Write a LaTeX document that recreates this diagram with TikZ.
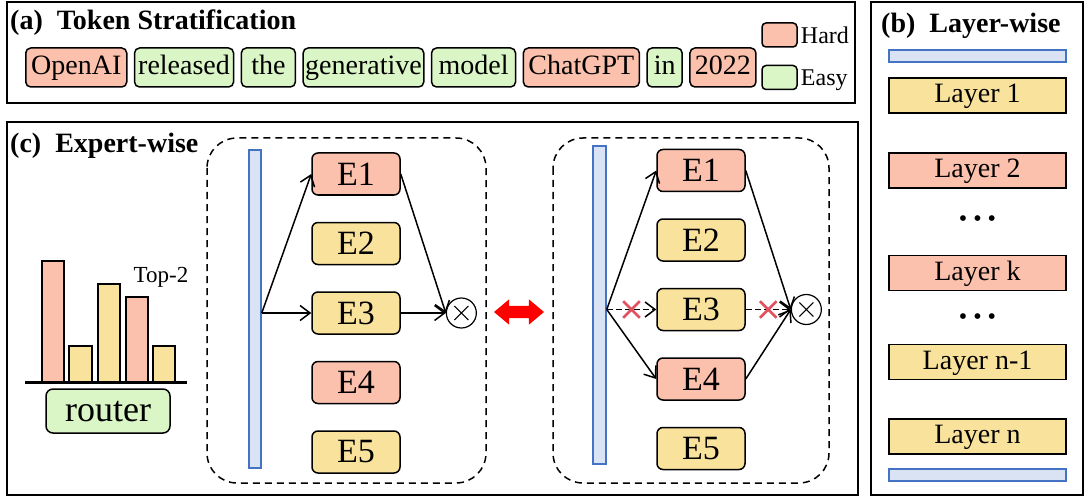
\documentclass[tikz,border=0pt]{standalone}
\usepackage{fontspec}
\setmainfont{Liberation Serif}
\usepackage{xcolor}
\usetikzlibrary{arrows.meta,positioning,shapes.arrows,shapes.misc}
\definecolor{hardred}{HTML}{FBC1AD}
\definecolor{easygreen}{HTML}{DAF5C6}
\definecolor{midyellow}{HTML}{F9E29C}
\definecolor{barblue}{HTML}{DAE3F3}
\definecolor{baredge}{HTML}{4472C4}
\definecolor{crossred}{HTML}{E2515F}
\tikzset{%
	panel/.style    = {draw, line width=2pt},
	title/.style    = {anchor=base west, inner sep=0, font=\fontsize{28}{30}\selectfont\bfseries},
	hard/.style     = {fill=hardred},
	easy/.style     = {fill=easygreen},
	mid/.style      = {fill=midyellow},
	token/.style    = {draw, rectangle, rounded corners=5pt, line width=1.5pt, minimum height=39pt, inner xsep=2pt, inner ysep=0pt, text height=20pt, text depth=6pt, font=\fontsize{28}{30}\selectfont},
	swatch/.style   = {draw, rectangle, rounded corners=4pt, line width=1.5pt, minimum width=35pt, minimum height=24pt},
	keytext/.style  = {inner sep=0pt, text depth=0pt, font=\fontsize{24}{26}\selectfont},
	layer/.style    = {draw, rectangle, line width=1.8pt, minimum width=177pt, minimum height=35pt, inner ysep=0pt, text height=20pt, text depth=6pt, font=\fontsize{28}{30}\selectfont},
	bluebar/.style  = {draw=baredge, fill=barblue, line width=1.5pt, inner sep=0pt},
	dots/.style     = {inner sep=0pt, font=\fontsize{24}{26}\selectfont},
	bar/.style      = {draw, line width=1.5pt},
	group/.style    = {draw, rounded corners=30pt, line width=1.5pt, dash pattern=on 7pt off 5pt},
	expert/.style   = {draw, rectangle, rounded corners=6pt, line width=1.5pt, minimum width=88pt, minimum height=42pt, inner ysep=0pt, font=\fontsize{34}{36}\selectfont},
	mult/.style     = {circle, draw, line width=1.2pt, minimum size=30pt, inner sep=0pt,
		path picture={\draw[line width=1.2pt]
			([shift={(-7pt,-7pt)}]path picture bounding box.center) -- ([shift={(7pt,7pt)}]path picture bounding box.center)
			([shift={(-7pt,7pt)}]path picture bounding box.center) -- ([shift={(7pt,-7pt)}]path picture bounding box.center);}},
	flow/.style     = {line width=1.5pt},
	dropped/.style  = {dash pattern=on 6pt off 3pt},
	nogo/.style     = {cross out, draw=crossred, line width=2.6pt, minimum size=14pt, inner sep=0pt, solid},
	pairarrow/.style= {double arrow, fill=red, minimum height=50pt, inner xsep=0pt, inner ysep=6pt, double arrow head extend=6.5pt, double arrow tip angle=80},
}

\begin{document}
\begin{tikzpicture}[x=1pt, y=-1pt, >={Straight Barb[length=10pt,width=15pt]}, node distance=69.5pt]
	\useasboundingbox (0,0) rectangle (1086,497);
	% panels
	\draw[panel] (7,2) rectangle (855,103);
	\draw[panel] (871,2) rectangle (1083,495);
	\draw[panel] (7,122) rectangle (858,495);

	% (a) token stratification
	\node[title] (titlea) at (10,30) {(a)\ \ Token Stratification};
	\node[token,hard,anchor=west,minimum width=101pt] (openai) at (25,67.5) {OpenAI};
	\node[token,easy,minimum width=99pt,right=6.3pt of openai] (released) {released};
	\node[token,easy,minimum width=54pt,right=6.3pt of released] (the) {the};
	\node[token,easy,minimum width=120pt,right=6.3pt of the] (generative) {generative};
	\node[token,easy,minimum width=84pt,right=6.3pt of generative] (model) {model};
	\node[token,hard,minimum width=116pt,right=6.3pt of model] (chatgpt) {ChatGPT};
	\node[token,easy,minimum width=35pt,right=6.3pt of chatgpt] (in) {in};
	\node[token,hard,minimum width=66pt,right=6.3pt of in] (year) {2022};
	\node[swatch,hard] (hardkey) at (779.5,35) {};
	\node[keytext,right=3pt of hardkey] (hardtxt) {Hard};
	\node[swatch,easy] (easykey) at (779.5,77.5) {};
	\node[keytext,right=3pt of easykey] (easytxt) {Easy};

	% (b) layer-wise
	\node[title] (titleb) at (881,33) {(b)\ \ Layer-wise};
	\node[bluebar,minimum width=177pt,minimum height=12pt] (topbar) at (977.5,56) {};
	\node[layer,mid] (layer1) at (977.5,95.5) {Layer 1};
	\node[layer,hard] (layer2) at (977.5,170.5) {Layer 2};
	\node[dots] (dotsa) at (977.5,221) {\textbullet\hspace{6pt}\textbullet\hspace{6pt}\textbullet};
	\node[layer,hard] (layerk) at (977.5,273) {Layer k};
	\node[dots] (dotsb) at (977.5,319) {\textbullet\hspace{6pt}\textbullet\hspace{6pt}\textbullet};
	\node[layer,mid] (layern1) at (977.5,362) {Layer n-1};
	\node[layer,mid] (layern) at (977.5,436.5) {Layer n};
	\node[bluebar,minimum width=177pt,minimum height=12pt] (botbar) at (977.5,475) {};

	% (c) expert-wise
	\node[title] (titlec) at (10,153) {(c)\ \ Expert-wise};
	\draw[bar,hard] (42,382) rectangle (64,261);
	\draw[bar,mid] (69,382) rectangle (92,346);
	\draw[bar,mid] (98,382) rectangle (120,284);
	\draw[bar,hard] (126,382) rectangle (148,297);
	\draw[bar,mid] (153,382) rectangle (175,346);
	\draw[line width=3pt] (25,382) -- (187,382);
	\node[font=\fontsize{23}{25}\selectfont] (topk) at (161,277) {Top-2};
	\node[token,easy,rounded corners=7pt,minimum width=124pt,minimum height=44pt,text height=23pt,text depth=2pt,font=\fontsize{36}{38}\selectfont] (router) at (108,411) {router};

	% top-2 routing
	\draw[group] (207,138) rectangle (486,483);
	\node[bluebar,minimum width=12pt,minimum height=318pt] (bara) at (255,309) {};
	\node[expert,hard] (e1a) at (356,174) {E1};
	\node[expert,mid,below of=e1a] (e2a) {E2};
	\node[expert,mid,below of=e2a] (e3a) {E3};
	\node[expert,hard,below of=e3a] (e4a) {E4};
	\node[expert,mid,below of=e4a] (e5a) {E5};
	\node[mult,right=45pt of e3a] (multa) {};
	\coordinate (srca) at (bara.east |- e3a);
	\draw[flow,->] (srca) -- (e1a.west);
	\draw[flow,->] (srca) -- (e3a.west);
	\draw[flow,->] (e1a.east) -- (multa.west);
	\draw[flow,->] (e3a.east) -- (multa.west);

	\node[pairarrow] (pair) at (519,312) {};

	% stratified routing
	\draw[group] (553,138) rectangle (829,483);
	\node[bluebar,minimum width=13pt,minimum height=318pt] (barb) at (599.5,305) {};
	\node[expert,hard] (e1b) at (701,170.5) {E1};
	\node[expert,mid,below of=e1b] (e2b) {E2};
	\node[expert,mid,below of=e2b] (e3b) {E3};
	\node[expert,hard,below of=e3b] (e4b) {E4};
	\node[expert,mid,below of=e4b] (e5b) {E5};
	\node[mult,right=45pt of e3b] (multb) {};
	\coordinate (srcb) at (barb.east |- e3b);
	\draw[flow,->] (srcb) -- (e1b.west);
	\draw[flow,->] (srcb) -- (e4b.west);
	\draw[flow,dropped,->] (srcb) -- node[nogo] {} (e3b.west);
	\draw[flow,->] (e1b.east) -- (multb.west);
	\draw[flow,->] (e4b.east) -- (multb.west);
	\draw[flow,dropped,->] (e3b.east) -- node[nogo] {} (multb.west);
\end{tikzpicture}
\end{document}
